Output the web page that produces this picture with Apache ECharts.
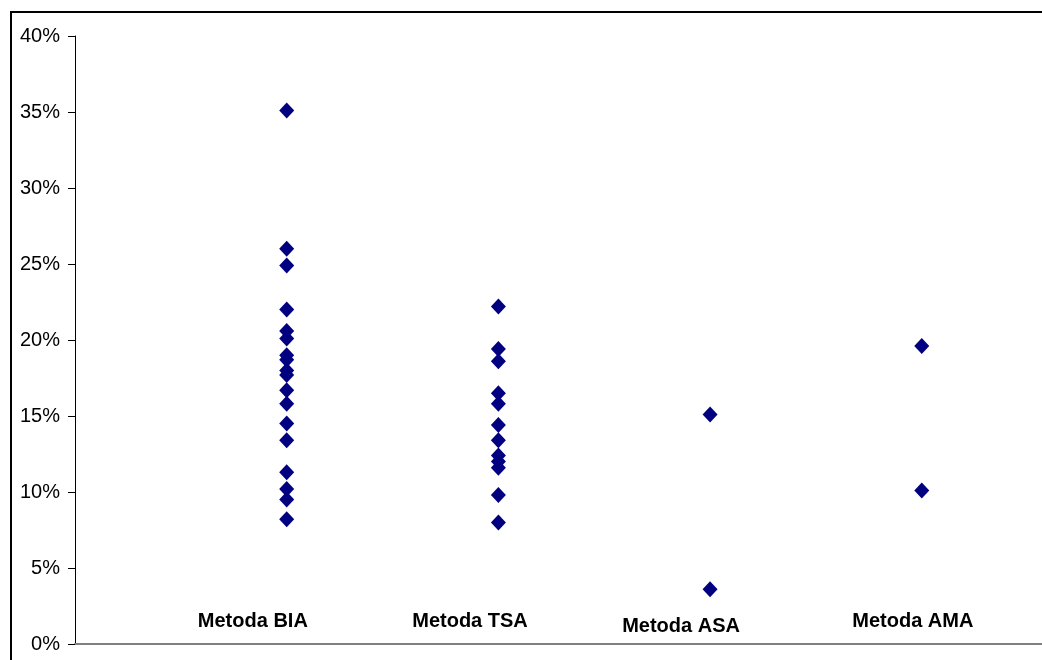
<!DOCTYPE html>
<html>
<head>
<meta charset="utf-8">
<script src="https://cdn.jsdelivr.net/npm/echarts@6/dist/echarts.min.js"></script>
<style>html,body{margin:0;padding:0;background:#fff;}#c{width:1042px;height:660px;}</style>
</head>
<body>
<div id="c"></div>
<script>
// Method categories (x = 1..4)
var categories = ['Metoda BIA', 'Metoda TSA', 'Metoda ASA', 'Metoda AMA'];
// Values (fractions)
var biaValues = [0.351, 0.260, 0.249, 0.220, 0.206, 0.201, 0.190, 0.187, 0.180, 0.177, 0.167, 0.158, 0.145, 0.134, 0.113, 0.102, 0.095, 0.082];
var tsaValues = [0.222, 0.194, 0.186, 0.165, 0.158, 0.144, 0.134, 0.124, 0.120, 0.116, 0.098, 0.080];
var asaValues = [0.151, 0.036];
var amaValues = [0.196, 0.101];
// Category label anchors (data units)
var labelX = [0.84, 1.866, 2.863, 3.958];
var labelY = [0.0145, 0.0145, 0.0118, 0.0145];
var yTicks = [0, 0.05, 0.10, 0.15, 0.20, 0.25, 0.30, 0.35, 0.40];

var groups = [biaValues, tsaValues, asaValues, amaValues];
var pts = [];
groups.forEach(function (arr, i) {
  arr.forEach(function (v) { pts.push([i + 1, v]); });
});
var labelPts = categories.map(function (c, i) { return { value: [labelX[i], labelY[i]], name: c }; });

var chart = echarts.init(document.getElementById('c'), null, { renderer: 'canvas' });
chart.setOption({
  animation: false,
  backgroundColor: '#ffffff',
  grid: { left: 75, right: 0, top: 36, bottom: 16, containLabel: false },
  graphic: [{
    type: 'rect', shape: { x: 11, y: 12, width: 1200, height: 800 },
    style: { fill: 'none', stroke: '#000', lineWidth: 2 }, silent: true
  }],
  xAxis: {
    type: 'value', min: 0, max: 4.568,
    axisLine: { show: true, onZero: false, lineStyle: { color: '#808080', width: 2 } },
    axisTick: { show: false }, axisLabel: { show: false }, splitLine: { show: false }
  },
  yAxis: {
    type: 'value', min: 0, max: 0.4, interval: 0.05,
    axisLine: { show: true, lineStyle: { color: '#000', width: 1 } },
    axisTick: { show: true, inside: false, length: 7, lineStyle: { color: '#000' } },
    splitLine: { show: false },
    axisLabel: {
      margin: 15, color: '#000', fontFamily: 'Liberation Sans, Arial, sans-serif', fontSize: 20,
      formatter: function (v) { return Math.round(v * 100) + '%'; }
    }
  },
  series: [{
    type: 'scatter', data: pts, symbol: 'diamond', symbolSize: [15, 16],
    itemStyle: { color: '#000080', opacity: 1 }, z: 3
  }, {
    type: 'scatter', data: labelPts, symbolSize: 0, silent: true,
    itemStyle: { opacity: 1 },
    label: {
      show: true, position: 'inside', formatter: '{b}', color: '#000',
      textBorderWidth: 0,
      fontFamily: 'Liberation Sans, Arial, sans-serif', fontWeight: 'bold', fontSize: 20
    }
  }]
});
</script>
</body>
</html>
